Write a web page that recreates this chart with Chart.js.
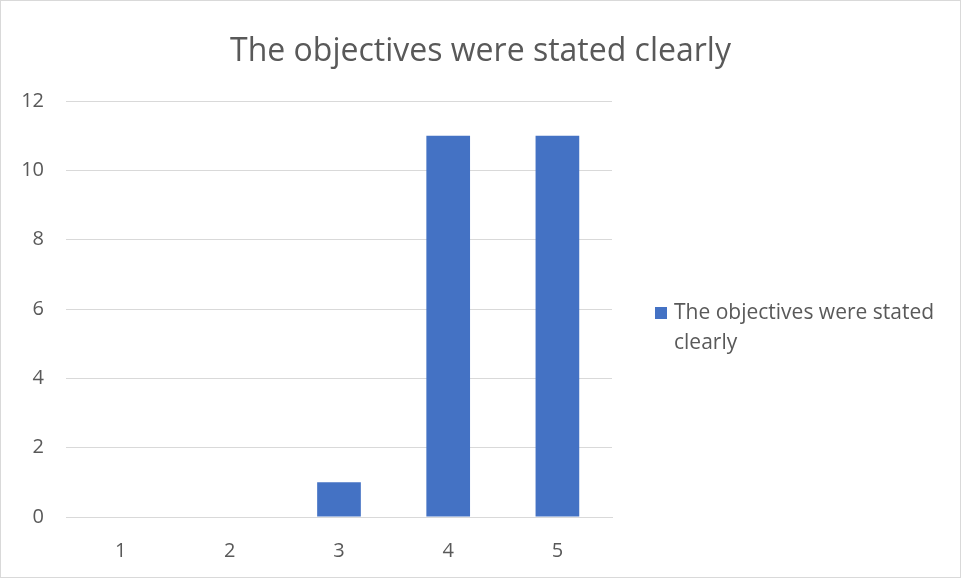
<!DOCTYPE html>
<html lang="en">
<head>
  <meta charset="UTF-8" />
  <script src="https://cdn.jsdelivr.net/npm/chart.js"></script>
  <title>The objectives were stated clearly</title>
  <style>
    html, body { margin: 0; padding: 0; background: #fff; }
    #wrap { position: relative; width: 959px; height: 576px; border: 1px solid #d9d9d9; }
    #title {
      position: absolute; left: 0; right: 0; top: 26px; text-align: center;
      font: 32px "Open Sans", sans-serif; color: #595959; line-height: 44px;
    }
    #legend {
      position: absolute; left: 654px; top: 295px; width: 300px;
      font: 21px "Open Sans", sans-serif; color: #595959; line-height: 30px;
    }
    #legend .box { display: inline-block; width: 12px; height: 12px; background: #4472C4; margin-right: 7px; vertical-align: 0px; }
    #legend .indent { padding-left: 19px; }
  </style>
</head>
<body>
  <div id="wrap">
    <canvas id="chart" width="959" height="576"></canvas>
    <div id="title"></div>
    <div id="legend"></div>
  </div>

  <script>
    const categories = ['1', '2', '3', '4', '5'];
    const values = [0, 0, 1, 11, 11];
    const seriesName = 'The objectives were stated clearly';
    const chartTitle = 'The objectives were stated clearly';

    document.getElementById('title').textContent = chartTitle;
    // legend drawn in html so the label can wrap like the original
    document.getElementById('legend').innerHTML =
      '<span class="box"></span>The objectives were stated<br><span class="indent">clearly</span>';

    const ctx = document.getElementById('chart').getContext('2d');
    new Chart(ctx, {
      type: 'bar',
      data: {
        labels: categories,
        datasets: [{
          label: seriesName,
          data: values,
          backgroundColor: '#4472C4',
          barPercentage: 0.4,
          categoryPercentage: 1.0
        }]
      },
      options: {
        responsive: false,
        animation: false,
        layout: { padding: { left: 21, right: 348, top: 100, bottom: 0 } },
        plugins: {
          legend: { display: false },
          tooltip: { enabled: false },
          title: { display: false }
        },
        scales: {
          x: {
            grid: { display: false },
            border: { color: '#d9d9d9', width: 1 },
            ticks: { color: '#595959', padding: 14, font: { family: '"Open Sans", sans-serif', size: 20 } },
            afterFit: function (scale) { scale.height = 60; }
          },
          y: {
            min: 0, max: 12,
            grid: { color: '#d9d9d9', drawTicks: false },
            border: { display: false },
            ticks: { stepSize: 2, color: '#595959', padding: 22, font: { family: '"Open Sans", sans-serif', size: 20 } },
            afterFit: function (scale) { scale.width = 44; }
          }
        }
      }
    });
  </script>
</body>
</html>
